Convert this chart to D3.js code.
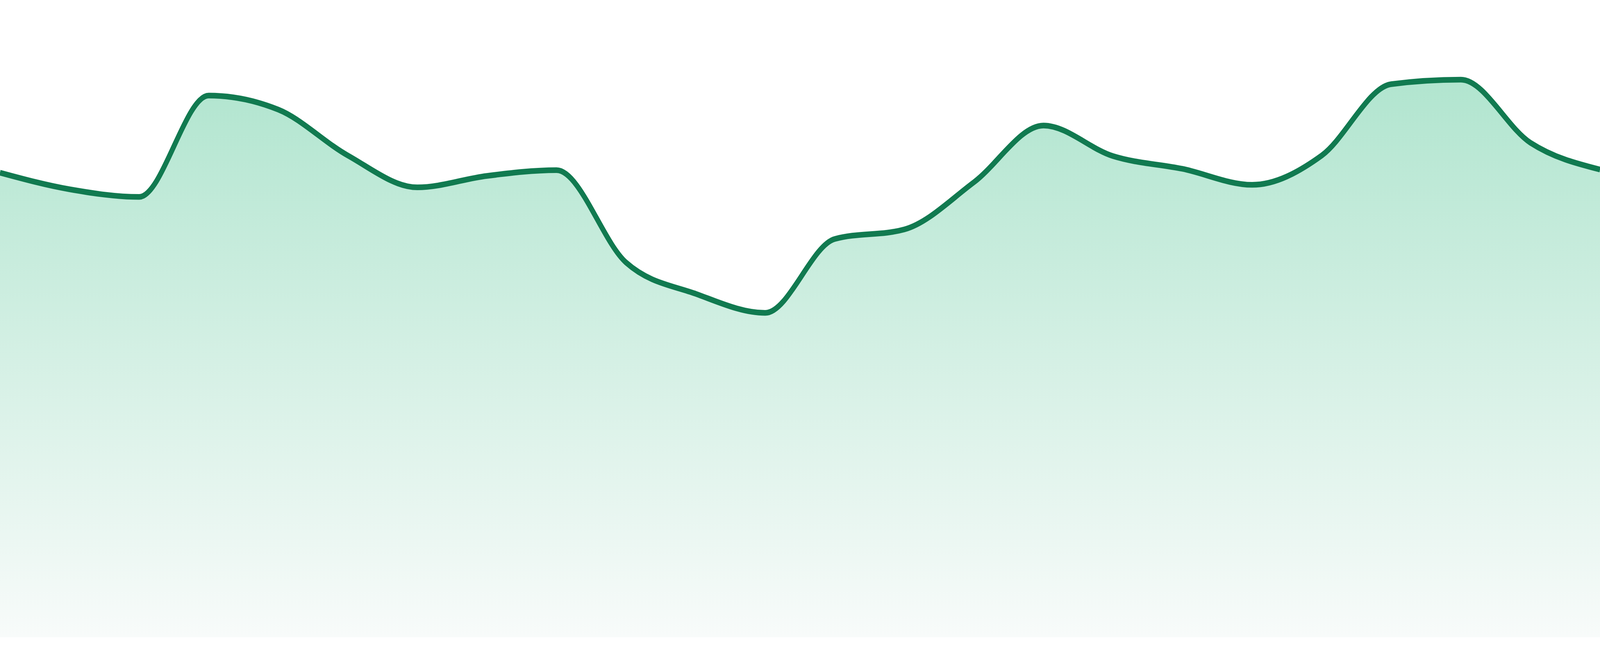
<!DOCTYPE html>
<html>
<head>
<meta charset="utf-8">
<script src="https://cdn.jsdelivr.net/npm/d3@7"></script>
<style>
    html, body { margin: 0; padding: 0; background: #ffffff; overflow: hidden; }
    #chart { width: 100vw; height: 100vh; }
    #chart svg { display: block; width: 100%; height: 100%; }
</style>
</head>
<body>
<div id="chart"></div>
<script>
    // series values, one per evenly spaced step
    let steps = d3.range(24);
    let values = [72.9, 70.3, 69.1, 85.0, 82.8, 75.6, 70.6, 72.4, 73.3, 58.8, 53.9, 50.9,
                  62.5, 64.0, 71.4, 80.3, 75.5, 73.5, 71.0, 75.6, 86.8, 87.5, 77.6, 73.4];
    let yDomain = [0, 100];

    // drawing space of the picture, scaled to whatever the window really is
    let fullWidth = 4800;
    let fullHeight = 1680;
    let margin = {top: 0, right: 0, bottom: 48, left: 0};
    let width = fullWidth - margin.left - margin.right;
    let height = fullHeight - margin.top - margin.bottom;

    let svg = d3.select("#chart").append("svg")
        .attr("viewBox", `0 0 ${fullWidth} ${fullHeight}`)
        .attr("preserveAspectRatio", "none")
        .append("g")
        .attr("transform", `translate(${margin.left}, ${margin.top})`);

    let x = d3.scaleLinear()
        .domain(d3.extent(steps))
        .range([0, width]);

    let y = d3.scaleLinear()
        .domain(yDomain)
        .range([height, 0]);

    let data = steps.map((s, i) => ({step: s, value: values[i]}));

    // fill gradient, strong green at the top fading to near white
    let gradient = svg.append("defs")
        .append("linearGradient")
        .attr("id", "area-gradient")
        .attr("x1", "0%")
        .attr("y1", "0%")
        .attr("x2", "0%")
        .attr("y2", "100%");

    gradient.append("stop")
        .attr("offset", "0%")
        .style("stop-color", "#b1e5cf");

    gradient.append("stop")
        .attr("offset", "100%")
        .style("stop-color", "#f8fbfa");

    let area = d3.area()
        .x(d => x(d.step))
        .y0(y(0))
        .y1(d => y(d.value))
        .curve(d3.curveMonotoneX);

    let line = d3.line()
        .x(d => x(d.step))
        .y(d => y(d.value))
        .curve(d3.curveMonotoneX);

    svg.append("path")
        .datum(data)
        .attr("class", "area")
        .attr("d", area)
        .style("fill", "url(#area-gradient)");

    svg.append("path")
        .datum(data)
        .attr("class", "line")
        .attr("d", line)
        .style("fill", "none")
        .style("stroke", "#117a50")
        .style("stroke-width", 14.5)
        .style("stroke-linejoin", "round");
</script>
</body>
</html>
